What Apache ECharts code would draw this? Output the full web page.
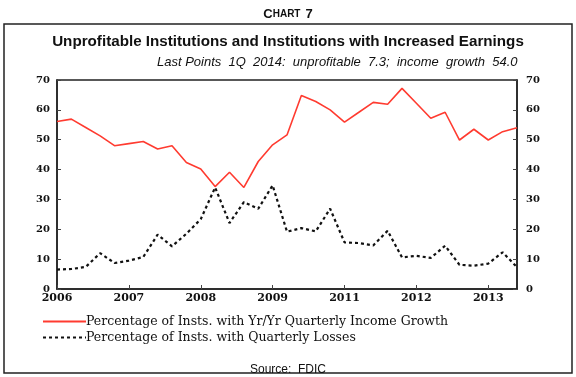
<!DOCTYPE html>
<html>
<head>
<meta charset="utf-8">
<script src="https://cdn.jsdelivr.net/npm/echarts@6/dist/echarts.min.js"></script>
<style>
  html, body { margin: 0; padding: 0; background: #fff; }
  #chart { width: 576px; height: 377px; }
</style>
</head>
<body>
<div id="chart"></div>
<script>
// quarters 1Q 2006 .. 1Q 2014
var quarters = [];
for (var y = 2006; y <= 2014; y++) {
  for (var q = 1; q <= 4; q++) {
    if (y === 2014 && q > 1) break;
    quarters.push(y + 'Q' + q);
  }
}

// Yr/Yr quarterly income growth (% of institutions)
var incomeGrowth = [56.1, 56.9, 54.1, 51.3, 48.0, 48.7, 49.4, 46.9, 48.0, 42.4,
  40.2, 34.3, 39.1, 34.0, 42.7, 48.3, 51.6, 64.8, 62.8, 60.0,
  55.9, 59.2, 62.5, 61.9, 67.2, 62.2, 57.2, 59.2, 49.9, 53.5,
  49.9, 52.7, 54.0];

// quarterly losses (% of institutions)
var unprofitable = [6.5, 6.7, 7.4, 12.0, 8.7, 9.5, 10.7, 18.2, 14.3, 18.5,
  23.4, 34.0, 22.1, 29.1, 26.9, 34.7, 19.2, 20.4, 19.3, 26.9,
  15.6, 15.4, 14.6, 19.5, 10.6, 11.1, 10.4, 14.5, 8.1, 7.8,
  8.5, 12.3, 7.3];

var yTicks = [0, 10, 20, 30, 40, 50, 60, 70];

var serif = '"DejaVu Serif", "Liberation Serif", serif';
var sans = '"Liberation Sans", Arial, sans-serif';

var chart = echarts.init(document.getElementById('chart'));

function yAxis(pos) {
  return {
    type: 'value',
    position: pos,
    min: yTicks[0],
    max: yTicks[yTicks.length - 1],
    interval: 10,
    axisLine: { show: true, lineStyle: { color: '#222', width: 1.5 } },
    axisTick: { show: true, inside: true, length: 4, lineStyle: { color: '#444' } },
    axisLabel: {
      color: '#111', fontFamily: serif, fontSize: 10, fontWeight: 'bold',
      margin: pos === 'left' ? 7 : 9,
      padding: [0, 0, 6, 0]
    },
    splitLine: { show: false }
  };
}

chart.setOption({
  animation: false,
  title: [
    {
      text: '{c|C}{s|HART} {c|7}',
      left: 'center', top: 0,
      textStyle: {
        rich: {
          c: { fontFamily: sans, fontWeight: 'bold', fontSize: 13, color: '#111' },
          s: { fontFamily: sans, fontWeight: 'bold', fontSize: 10, color: '#111' }
        }
      }
    },
    {
      text: 'Unprofitable Institutions and Institutions with Increased Earnings',
      left: 'center', top: 29,
      textStyle: { fontFamily: sans, fontWeight: 'bold', fontSize: 15.2, color: '#111' }
    },
    {
      text: 'Last Points  1Q  2014:  unprofitable  7.3;  income  growth  54.0',
      left: 152, top: 51,
      textStyle: { fontFamily: sans, fontStyle: 'italic', fontWeight: 'normal', fontSize: 13, color: '#111' }
    },
    {
      text: 'Source:  FDIC',
      left: 'center', top: 359,
      textStyle: { fontFamily: sans, fontWeight: 'normal', fontSize: 12, color: '#111' }
    }
  ],
  // outer frame
  graphic: [{
    type: 'rect',
    shape: { x: 4, y: 24, width: 568, height: 349 },
    style: { fill: 'none', stroke: '#222', lineWidth: 1.5 },
    silent: true
  }],
  grid: {
    left: 57, right: 59, top: 80, bottom: 88,
    show: true, borderColor: '#222', borderWidth: 1.5
  },
  legend: {
    orient: 'vertical',
    left: 37, top: 310,
    itemWidth: 43, itemHeight: 10, itemGap: 3,
    itemStyle: { opacity: 0 },
    textStyle: { fontFamily: serif, fontSize: 12.5, color: '#111', padding: [0, 0, 0, -5] },
    data: ['Percentage of Insts. with Yr/Yr Quarterly Income Growth', 'Percentage of Insts. with Quarterly Losses']
  },
  xAxis: {
    type: 'category',
    data: quarters,
    boundaryGap: false,
    axisLine: { show: true, lineStyle: { color: '#222', width: 1.5 } },
    axisTick: { show: true, inside: true, length: 4, interval: 4, lineStyle: { color: '#444' } },
    axisLabel: {
      interval: 4, margin: 4,
      color: '#111', fontFamily: serif, fontSize: 11, fontWeight: 'bold',
      formatter: function (v) { return v.slice(0, 4); }
    }
  },
  yAxis: [yAxis('left'), yAxis('right')],
  series: [
    {
      name: 'Percentage of Insts. with Yr/Yr Quarterly Income Growth',
      type: 'line',
      data: incomeGrowth,
      symbol: 'none',
      lineStyle: { color: '#ff3b30', width: 1.6 },
      itemStyle: { color: '#ff3b30' }
    },
    {
      name: 'Percentage of Insts. with Quarterly Losses',
      type: 'line',
      data: unprofitable,
      symbol: 'none',
      lineStyle: { color: '#111', width: 2.2, type: [3, 3] },
      itemStyle: { color: '#111' }
    }
  ]
});
</script>
</body>
</html>
